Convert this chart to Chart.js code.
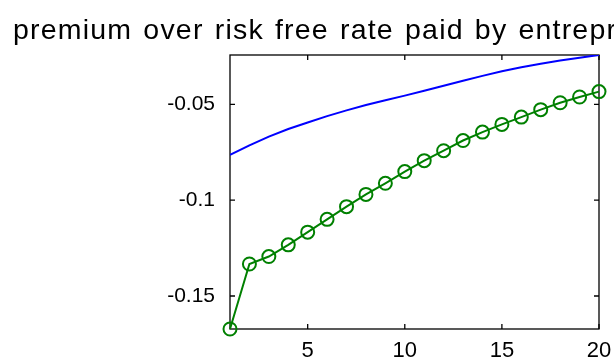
<!DOCTYPE html>
<html>
<head>
<meta charset="utf-8">
<script src="https://cdn.jsdelivr.net/npm/chart.js@4/dist/chart.umd.min.js"></script>
<style>
  html, body { margin: 0; padding: 0; background: #fff; overflow: hidden; }
  #wrap { width: 614px; height: 362px; position: relative; }
</style>
</head>
<body>
<div id="wrap"><canvas id="c" width="614" height="362"></canvas></div>
<script>
const titleText = "premium over risk free rate paid by entrepreneurs";
const periods = [1,2,3,4,5,6,7,8,9,10,11,12,13,14,15,16,17,18,19,20];
const blueSeries = [-0.0764, -0.0714, -0.0669, -0.0629, -0.0595, -0.0562, -0.0532, -0.0504, -0.0479, -0.0455,
                    -0.0429, -0.0403, -0.0377, -0.0352, -0.0328, -0.0307, -0.0289, -0.0272, -0.0257, -0.0243];
const greenSeries = [-0.1672, -0.1333, -0.1294, -0.1233, -0.1167, -0.1100, -0.1034, -0.0970, -0.0912, -0.0851,
                     -0.0794, -0.0742, -0.0689, -0.0645, -0.0605, -0.0567, -0.0528, -0.0492, -0.0462, -0.0434];
const xTicks = [5, 10, 15, 20];
const yTicks = [-0.15, -0.1, -0.05];
const yMin = -0.1672, yMax = -0.0243;

const framePlugin = {
  id: 'frame',
  beforeDatasetsDraw(chart) {
    const {ctx, chartArea: a, scales} = chart;
    ctx.save();
    ctx.strokeStyle = '#000';
    ctx.lineWidth = 1.3;
    ctx.strokeRect(a.left, a.top, a.right - a.left, a.bottom - a.top);
    const L = 5;
    ctx.beginPath();
    xTicks.forEach(v => {
      const px = scales.x.getPixelForValue(v);
      ctx.moveTo(px, a.bottom); ctx.lineTo(px, a.bottom - L);
      ctx.moveTo(px, a.top); ctx.lineTo(px, a.top + L);
    });
    yTicks.forEach(v => {
      const py = scales.y.getPixelForValue(v);
      ctx.moveTo(a.left, py); ctx.lineTo(a.left + L, py);
      ctx.moveTo(a.right, py); ctx.lineTo(a.right - L, py);
    });
    ctx.stroke();
    ctx.restore();
  },
  afterDraw(chart) {
    const ctx = chart.ctx;
    ctx.save();
    ctx.fillStyle = '#000';
    ctx.font = '28.5px "Liberation Sans", Arial, sans-serif';
    try { ctx.letterSpacing = '1.2px'; ctx.wordSpacing = '2px'; } catch (e) {}
    ctx.textBaseline = 'alphabetic';
    ctx.textAlign = 'left';
    ctx.fillText(titleText, 13, 39);
    ctx.restore();
  }
};

new Chart(document.getElementById('c'), {
  type: 'line',
  data: {
    datasets: [
      {
        data: periods.map((x, i) => ({x, y: blueSeries[i]})),
        borderColor: '#0000ff',
        borderWidth: 2,
        pointRadius: 0,
        tension: 0,
        fill: false
      },
      {
        data: periods.map((x, i) => ({x, y: greenSeries[i]})),
        borderColor: '#008000',
        borderWidth: 2,
        pointRadius: 6.5,
        pointBorderWidth: 2,
        pointBorderColor: '#008000',
        pointBackgroundColor: 'rgba(0,0,0,0)',
        pointHoverRadius: 6.5,
        tension: 0,
        fill: false,
        clip: false
      }
    ]
  },
  options: {
    responsive: false,
    animation: false,
    events: [],
    layout: { padding: { left: 0, right: 15, top: 55, bottom: 0 } },
    plugins: { legend: { display: false }, title: { display: false }, tooltip: { enabled: false } },
    scales: {
      x: {
        type: 'linear',
        min: 1, max: 20,
        grid: { display: false },
        border: { display: false },
        afterBuildTicks(s) { s.ticks = xTicks.map(v => ({value: v})); },
        afterFit(s) { s.height = 33; },
        ticks: {
          color: '#000',
          font: { family: '"Liberation Sans", Arial, sans-serif', size: 22 },
          padding: 1,
          maxRotation: 0,
          autoSkip: false,
          callback: v => String(v)
        }
      },
      y: {
        type: 'linear',
        min: yMin, max: yMax,
        grid: { display: false },
        border: { display: false },
        afterBuildTicks(s) { s.ticks = yTicks.map(v => ({value: v})); },
        afterFit(s) { s.width = 230; },
        ticks: {
          color: '#000',
          font: { family: '"Liberation Sans", Arial, sans-serif', size: 21 },
          padding: 7,
          autoSkip: false,
          callback: v => String(Math.round(v * 100) / 100)
        }
      }
    }
  },
  plugins: [framePlugin]
});
</script>
</body>
</html>
